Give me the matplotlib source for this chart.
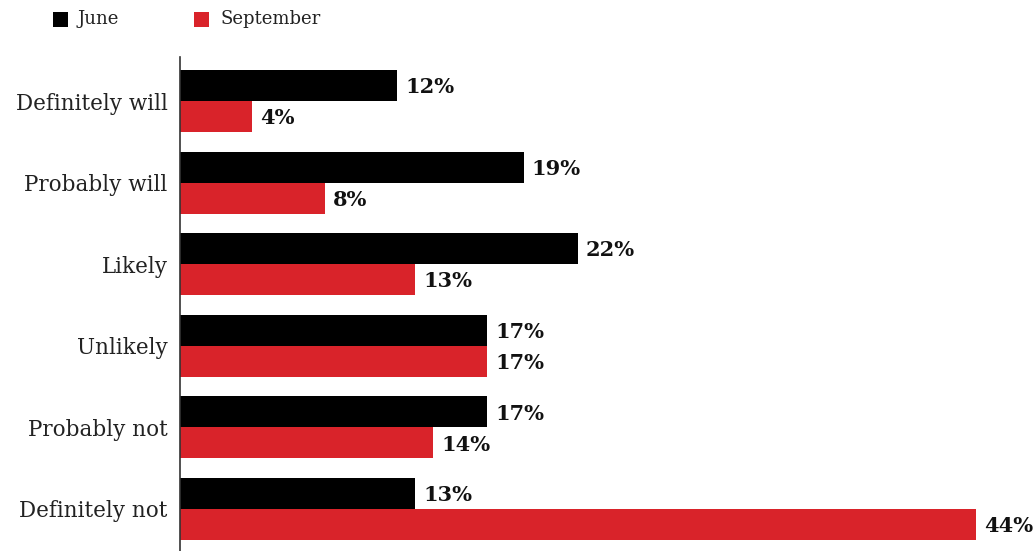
import matplotlib.pyplot as plt
from matplotlib.patches import Rectangle
import numpy as np

categories = ['Definitely will', 'Probably will', 'Likely', 'Unlikely',
              'Probably not', 'Definitely not']
june = [12, 19, 22, 17, 17, 13]
september = [4, 8, 13, 17, 14, 44]
series_names = ['June', 'September']
colors = ['#000000', '#d9232a']

W, H = 1035, 551
fig = plt.figure(figsize=(W / 100, H / 100), dpi=100)
fig.patch.set_facecolor('#ffffff')

ax = fig.add_axes([180 / W, 0, (W - 180) / W, (H - 57) / H])

y = np.arange(len(categories))
bh = 0.38
for vals, off, col in [(june, -bh / 2, colors[0]), (september, bh / 2, colors[1])]:
    bars = ax.barh(y + off, vals, height=bh, color=col, linewidth=0)
    for b, v in zip(bars, vals):
        ax.text(v + 0.45, b.get_y() + b.get_height() / 2 + 0.02, f'{v}%',
                va='center', ha='left', fontsize=15, fontweight='heavy',
                family='DejaVu Serif', color='#111111')

ax.set_xlim(0, (W - 180) / 18.08)
ax.set_ylim(5.515, -0.54)
ax.set_yticks(y)
ax.set_yticklabels(categories, family='DejaVu Serif', fontsize=15.5, color='#222222')
ax.tick_params(axis='y', length=0, pad=9)
ax.set_xticks([])

for s in ['top', 'right', 'bottom']:
    ax.spines[s].set_visible(False)
ax.spines['left'].set_color('#333333')
ax.spines['left'].set_linewidth(1.2)

# legend drawn by hand at the top left
for (x0, tx), name, col in zip([(53, 78), (194, 221)], series_names, colors):
    fig.add_artist(Rectangle((x0 / W, 1 - 27 / H), 15 / W, 15 / H,
                             transform=fig.transFigure, color=col, linewidth=0))
    fig.text(tx / W, 1 - 19 / H, name, va='center', ha='left',
             family='DejaVu Serif', fontsize=13, color='#222222')

fig.savefig('out.png', dpi=100)
